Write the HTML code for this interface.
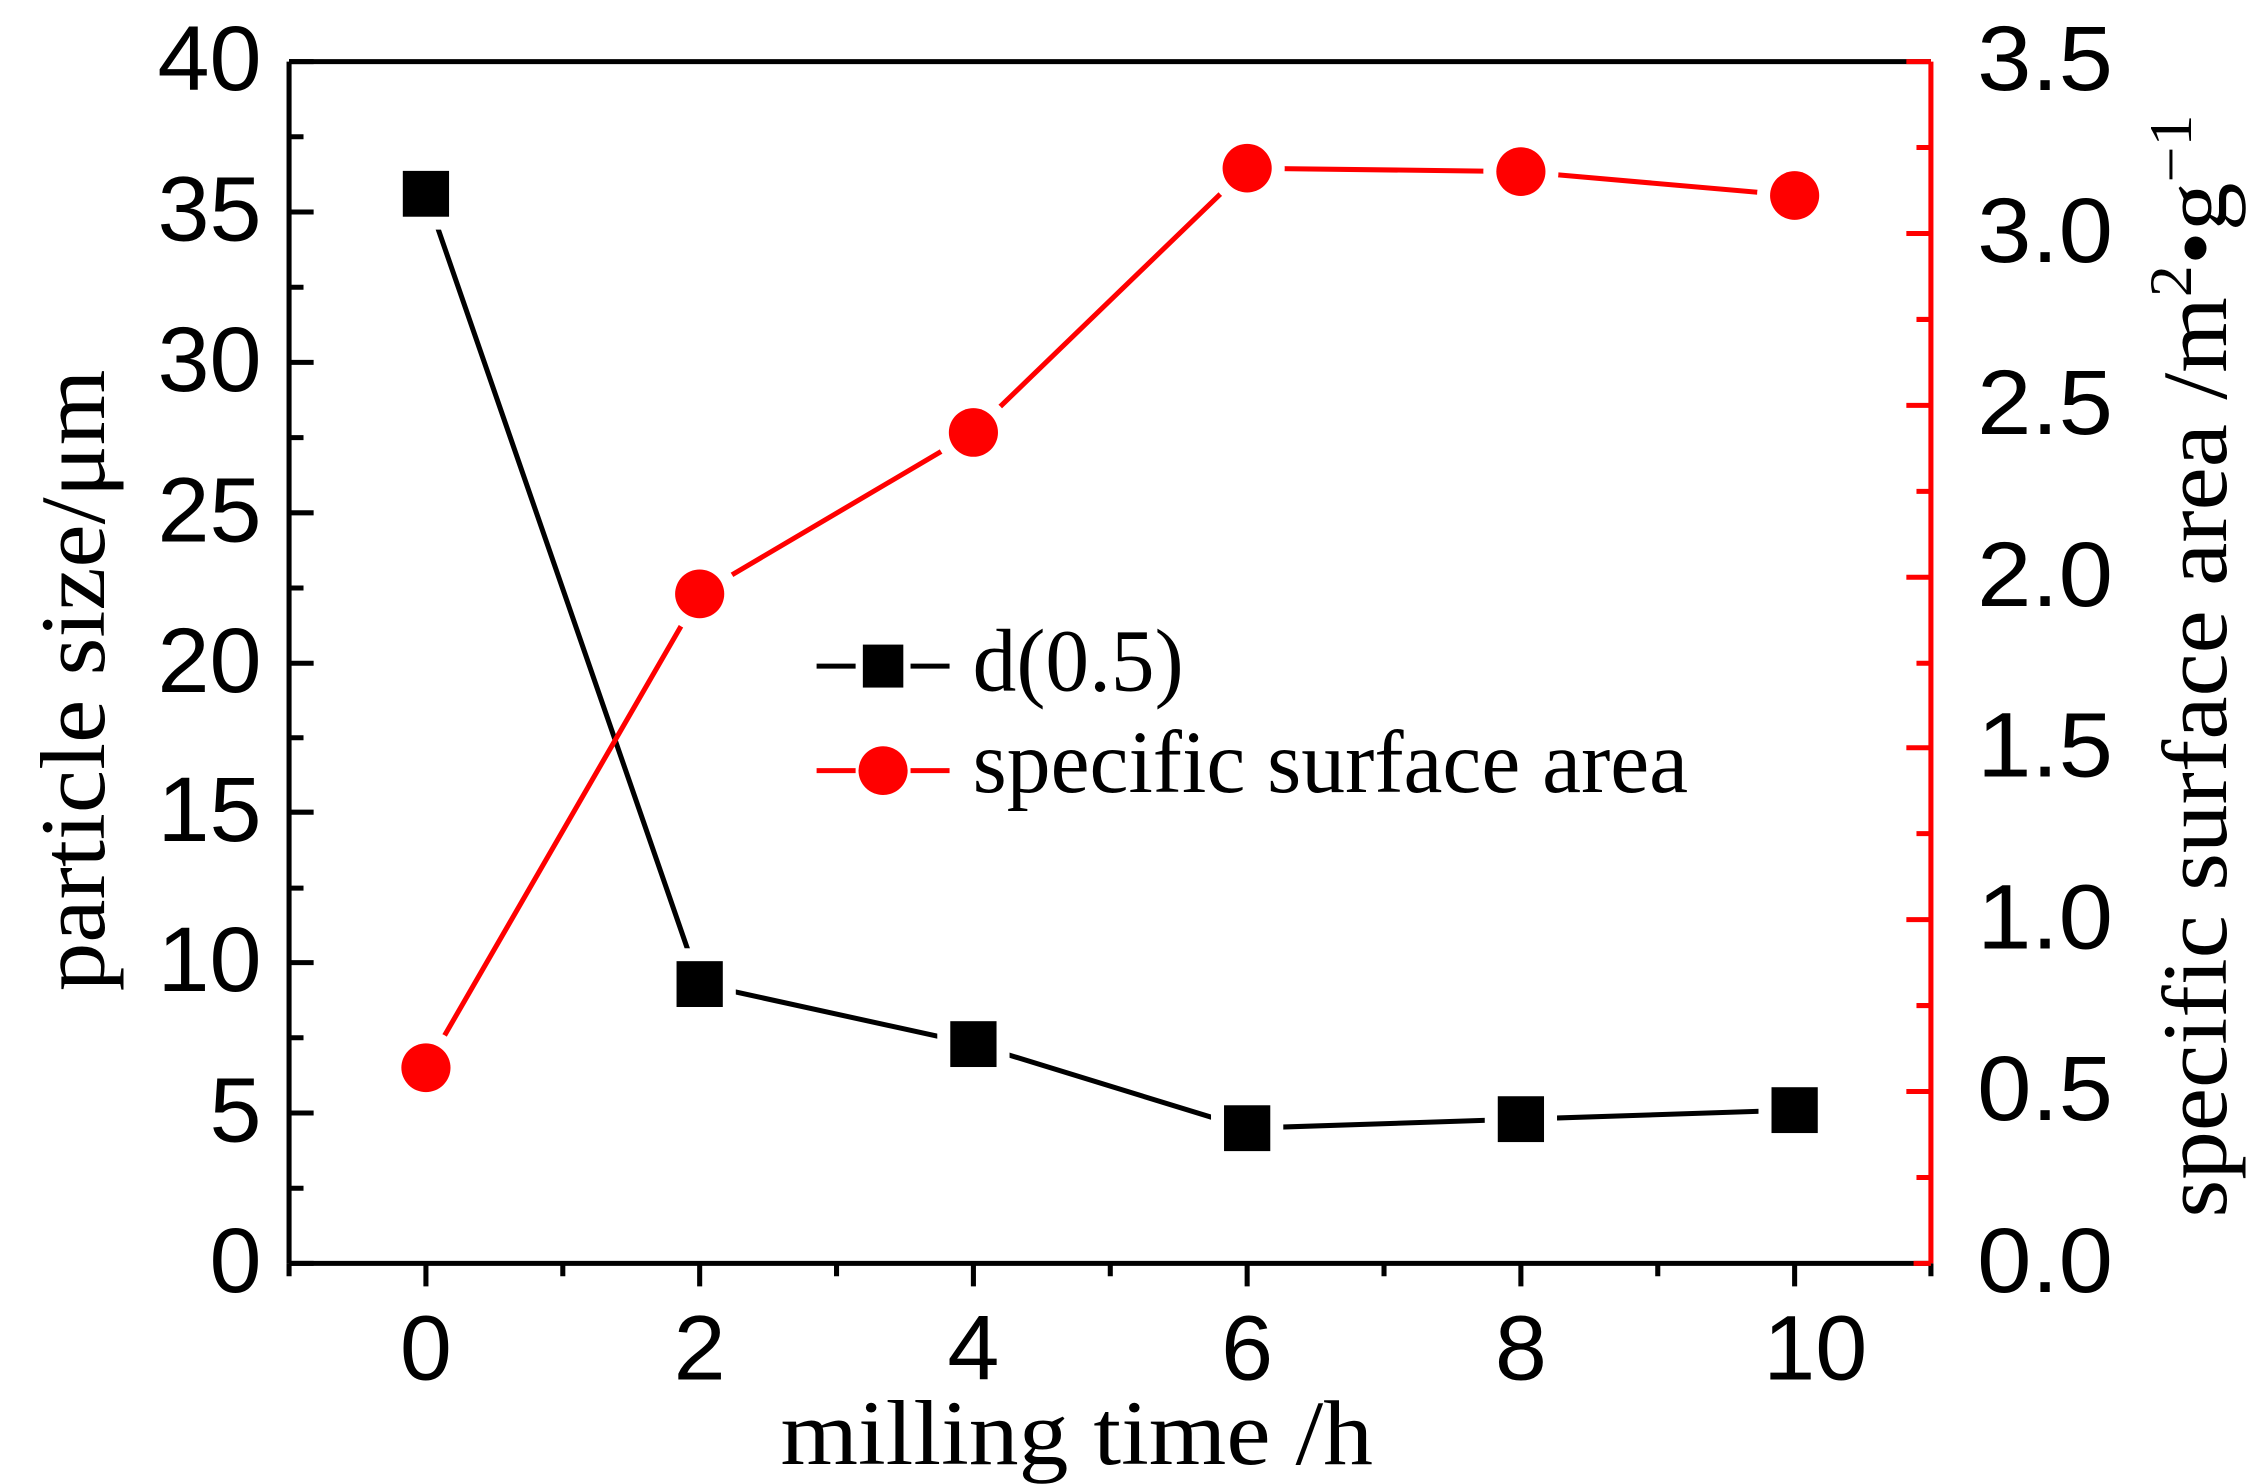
<!DOCTYPE html>
<html><head><meta charset="utf-8"><style>
html,body{margin:0;padding:0;background:#fff;}
svg{display:block;}
</style></head><body>
<svg width="2246" height="1484" viewBox="0 0 1554 1036" preserveAspectRatio="none" xmlns="http://www.w3.org/2000/svg">
<rect width="1554" height="1036" fill="#fff"/>
<g stroke="#000" stroke-width="3.5" fill="none">
<line x1="200" y1="43" x2="1336" y2="43"/>
<line x1="200" y1="43" x2="200" y2="882"/>
<line x1="200" y1="882" x2="1336" y2="882"/>
<path d="M200 43h17M200 148h17M200 253h17M200 358h17M200 463h17M200 567h17M200 672h17M200 777h17M200 882h17
M200 95.5h10M200 200.5h10M200 305.5h10M200 410.5h10M200 515h10M200 620h10M200 724.5h10M200 829.5h10"/>
<path d="M294.7 882v16M484.1 882v16M673.5 882v16M862.9 882v16M1052.3 882v16M1241.7 882v16
M200 882v9M389.4 882v9M578.8 882v9M768.2 882v9M957.6 882v9M1147 882v9M1336 882v9"/>
</g>
<g stroke="#f00" stroke-width="3.5" fill="none">
<line x1="1336" y1="43" x2="1336" y2="882"/>
<line x1="1319" y1="43" x2="1336" y2="43"/>
<line x1="1324" y1="882" x2="1336" y2="882"/>
<path d="M1336 163h-17M1336 283h-17M1336 403h-17M1336 522h-17M1336 642h-17M1336 762h-17
M1336 103h-10M1336 223h-10M1336 343h-10M1336 463h-10M1336 582h-10M1336 702h-10M1336 822h-10"/>
</g>
<polyline fill="none" stroke="#000" stroke-width="3.5" points="294.7,135.3 484.1,687 673.5,728.9 862.9,787.6 1052.3,781.3 1241.7,775"/>
<polyline fill="none" stroke="#f00" stroke-width="3.5" points="294.7,745.4 484.1,414.6 673.5,301.9 862.9,117.4 1052.3,119.8 1241.7,136.5"/>
<g fill="#000" stroke="#fff" stroke-width="18" paint-order="stroke">
<rect x="278.7" y="119.3" width="32" height="32"/>
<rect x="468.1" y="671" width="32" height="32"/>
<rect x="657.5" y="712.9" width="32" height="32"/>
<rect x="846.9" y="771.6" width="32" height="32"/>
<rect x="1036.3" y="765.3" width="32" height="32"/>
<rect x="1225.7" y="759" width="32" height="32"/>
</g>
<g fill="#f00" stroke="#fff" stroke-width="18" paint-order="stroke">
<circle cx="294.7" cy="745.4" r="17"/>
<circle cx="484.1" cy="414.6" r="17"/>
<circle cx="673.5" cy="301.9" r="17"/>
<circle cx="862.9" cy="117.4" r="17"/>
<circle cx="1052.3" cy="119.8" r="17"/>
<circle cx="1241.7" cy="136.5" r="17"/>
</g>
<line x1="565" y1="465" x2="592" y2="465" stroke="#000" stroke-width="3.5"/>
<line x1="630" y1="465" x2="657" y2="465" stroke="#000" stroke-width="3.5"/>
<rect x="597" y="450" width="28" height="30" fill="#000"/>
<line x1="565" y1="538" x2="592" y2="538" stroke="#f00" stroke-width="3.5"/>
<line x1="630" y1="538" x2="657" y2="538" stroke="#f00" stroke-width="3.5"/>
<circle cx="611" cy="538" r="17" fill="#f00"/>
<g font-family="Liberation Serif, serif" font-size="62" fill="#000">
<text x="673" y="482" textLength="146" lengthAdjust="spacingAndGlyphs">d(0.5)</text>
<text x="673" y="553" textLength="495" lengthAdjust="spacingAndGlyphs">specific surface area</text>
</g>
<g font-family="Liberation Sans, sans-serif" font-size="64" fill="#000" text-anchor="end">
<text x="181" y="63" textLength="72" lengthAdjust="spacingAndGlyphs">40</text>
<text x="181" y="168" textLength="72" lengthAdjust="spacingAndGlyphs">35</text>
<text x="181" y="273" textLength="72" lengthAdjust="spacingAndGlyphs">30</text>
<text x="181" y="378" textLength="72" lengthAdjust="spacingAndGlyphs">25</text>
<text x="181" y="483" textLength="72" lengthAdjust="spacingAndGlyphs">20</text>
<text x="181" y="587" textLength="72" lengthAdjust="spacingAndGlyphs">15</text>
<text x="181" y="692" textLength="72" lengthAdjust="spacingAndGlyphs">10</text>
<text x="181" y="797" textLength="36" lengthAdjust="spacingAndGlyphs">5</text>
<text x="181" y="902" textLength="36" lengthAdjust="spacingAndGlyphs">0</text>
</g>
<g font-family="Liberation Sans, sans-serif" font-size="64" fill="#000">
<text x="1368" y="63" textLength="94" lengthAdjust="spacingAndGlyphs">3.5</text>
<text x="1368" y="183" textLength="94" lengthAdjust="spacingAndGlyphs">3.0</text>
<text x="1368" y="303" textLength="94" lengthAdjust="spacingAndGlyphs">2.5</text>
<text x="1368" y="423" textLength="94" lengthAdjust="spacingAndGlyphs">2.0</text>
<text x="1368" y="542" textLength="94" lengthAdjust="spacingAndGlyphs">1.5</text>
<text x="1368" y="662" textLength="94" lengthAdjust="spacingAndGlyphs">1.0</text>
<text x="1368" y="782" textLength="94" lengthAdjust="spacingAndGlyphs">0.5</text>
<text x="1368" y="902" textLength="94" lengthAdjust="spacingAndGlyphs">0.0</text>
</g>
<g font-family="Liberation Sans, sans-serif" font-size="64" fill="#000">
<text x="276.7" y="963" textLength="36" lengthAdjust="spacingAndGlyphs">0</text>
<text x="466.1" y="963" textLength="36" lengthAdjust="spacingAndGlyphs">2</text>
<text x="655.5" y="963" textLength="36" lengthAdjust="spacingAndGlyphs">4</text>
<text x="844.9" y="963" textLength="36" lengthAdjust="spacingAndGlyphs">6</text>
<text x="1034.3" y="963" textLength="36" lengthAdjust="spacingAndGlyphs">8</text>
<text x="1220" y="963" textLength="72" lengthAdjust="spacingAndGlyphs">10</text>
</g>
<g font-family="Liberation Serif, serif" font-size="64" fill="#000">
<text x="540" y="1022" textLength="410" lengthAdjust="spacingAndGlyphs">milling time /h</text>
<text transform="translate(72,692) rotate(-90)" textLength="434" lengthAdjust="spacingAndGlyphs">particle size/μm</text>
<text transform="translate(1540,850) rotate(-90)" textLength="770" lengthAdjust="spacingAndGlyphs">specific surface area /m<tspan font-size="42" dy="-24">2</tspan><tspan dy="24">•g</tspan><tspan font-size="42" dy="-24">−1</tspan></text>
</g>
</svg>
</body></html>
